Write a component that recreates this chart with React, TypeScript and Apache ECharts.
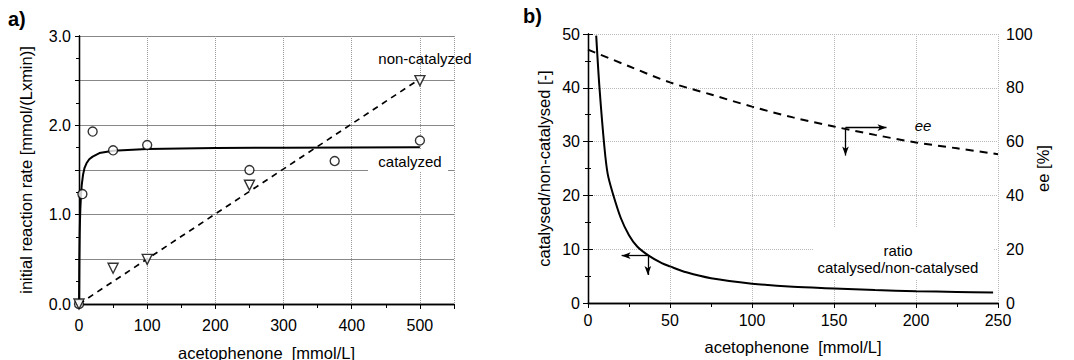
import { useEffect, useRef } from "react";
import * as echarts from "echarts";

// Panel a) data
const catX = [0, 5, 20, 50, 100, 250, 375, 500];
const catY = [0, 1.23, 1.93, 1.72, 1.78, 1.5, 1.6, 1.83];
const nonX = [0, 50, 100, 250, 500];
const nonY = [0, 0.4, 0.5, 1.33, 2.5];
const fitX = [0, 0.5, 1, 1.5, 2, 3, 4, 6, 8, 11, 15, 20, 30, 50, 100, 200, 300, 400, 500];
const fitY = [0, 0.5, 0.78, 0.95, 1.07, 1.23, 1.33, 1.45, 1.52, 1.575, 1.62, 1.65, 1.69, 1.715, 1.735, 1.745, 1.75, 1.752, 1.755];
const linX = [0, 500];
const linY = [0, 2.52];

// Panel b) data
const ratioX = [5, 7, 10, 12, 15, 20, 25, 30, 37, 45, 50, 60, 75, 100, 125, 150, 175, 200, 225, 247];
const ratioY = [49.7, 40, 29, 24, 20.5, 15.8, 12.6, 10.5, 8.8, 7.4, 6.8, 5.7, 4.6, 3.6, 3.0, 2.7, 2.4, 2.2, 2.05, 1.95];
const eeX = [0, 25, 50, 75, 100, 125, 150, 175, 200, 225, 250];
const eeY = [94.2, 88, 82, 77.5, 73, 69, 65.6, 62.5, 59.7, 57.5, 55.3];

const FONT = "Liberation Sans";

const zip = (xs: number[], ys: number[]) => xs.map((x, i) => [x, ys[i]]);

export default function App() {
  const ref = useRef<HTMLDivElement>(null);
  useEffect(() => {
    const chart = echarts.init(ref.current!, null, { renderer: "svg" });
    const axisLine = { show: true, lineStyle: { color: "#000", width: 1.3 } };
    const label = { color: "#000", fontSize: 16, fontFamily: FONT };
    const nameStyle = { color: "#000", fontSize: 16.5, fontFamily: FONT };
    const frameX = (grid: number, min: number, max: number, interval: number) => ({
      type: "value", gridIndex: grid, position: "top", min, max, interval,
      axisLine, axisLabel: { show: false }, splitLine: { show: false },
      axisTick: { show: true, inside: true, length: 4, lineStyle: { color: "#000" } },
      minorTick: { show: true, splitNumber: 2, length: 3, lineStyle: { color: "#000" } },
    });
    const option: any = {
      animation: false,
      grid: [
        { left: 79, top: 36, width: 375, height: 268, outerBoundsMode: "none", containLabel: false },
        { left: 588, top: 34, width: 410, height: 269, outerBoundsMode: "none", containLabel: false },
      ],
      xAxis: [
        {
          type: "value", gridIndex: 0, min: 0, max: 550, interval: 100, position: "bottom",
          axisLine,
          axisTick: { show: true, length: 5, lineStyle: { color: "#000" } },
          minorTick: { show: true, splitNumber: 2, length: 4, lineStyle: { color: "#000" } },
          axisLabel: { ...label, margin: 13, showMaxLabel: false },
          splitLine: { show: true, lineStyle: { color: "#999", type: "dotted", width: 1 } },
          name: "acetophenone  [mmol/L]", nameLocation: "middle", nameGap: 40, nameMoveOverlap: false,
          nameTextStyle: nameStyle,
        },
        frameX(0, 0, 550, 100),
        {
          type: "value", gridIndex: 1, min: 0, max: 250, interval: 50, position: "bottom",
          axisLine,
          axisTick: { show: true, length: 5, lineStyle: { color: "#000" } },
          minorTick: { show: true, splitNumber: 2, length: 4, lineStyle: { color: "#000" } },
          axisLabel: { ...label, margin: 9 },
          splitLine: { show: true, lineStyle: { color: "#bbb", type: "dotted", width: 1 } },
          name: "acetophenone  [mmol/L]", nameLocation: "middle", nameGap: 35, nameMoveOverlap: false,
          nameTextStyle: nameStyle,
        },
        frameX(1, 0, 250, 50),
      ],
      yAxis: [
        {
          type: "value", gridIndex: 0, min: 0, max: 3, interval: 0.5, position: "left",
          axisLine,
          axisTick: { show: true, length: 4, lineStyle: { color: "#000" } },
          minorTick: { show: true, splitNumber: 2, length: 3, lineStyle: { color: "#000" } },
          axisLabel: { ...label, margin: 8, formatter: (v: number) => (Math.abs(v % 1) < 1e-9 ? v.toFixed(1) : "") },
          splitLine: { show: true, lineStyle: { color: "#888", width: 1 } },
          name: "initial reaction rate [mmol/(Lxmin)]", nameLocation: "middle", nameGap: 45, nameMoveOverlap: false,
          nameRotate: 90, nameTextStyle: nameStyle,
        },
        {
          type: "value", gridIndex: 0, min: 0, max: 3, interval: 0.5, position: "right",
          axisLine, axisLabel: { show: false }, splitLine: { show: false },
          axisTick: { show: true, inside: true, length: 4, lineStyle: { color: "#000" } },
          minorTick: { show: true, splitNumber: 2, length: 3, lineStyle: { color: "#000" } },
        },
        {
          type: "value", gridIndex: 1, min: 0, max: 50, interval: 10, position: "left",
          axisLine,
          axisTick: { show: true, length: 5, lineStyle: { color: "#000" } },
          minorTick: { show: true, splitNumber: 2, length: 3, lineStyle: { color: "#000" } },
          axisLabel: { ...label, margin: 8 },
          splitLine: { show: true, lineStyle: { color: "#bbb", type: "dotted", width: 1 } },
          name: "catalysed/non-catalysed [-]", nameLocation: "middle", nameGap: 36, nameMoveOverlap: false,
          nameRotate: 90, nameTextStyle: nameStyle,
        },
        {
          type: "value", gridIndex: 1, min: 0, max: 100, interval: 20, position: "right",
          axisLine,
          axisTick: { show: true, length: 5, lineStyle: { color: "#000" } },
          minorTick: { show: true, splitNumber: 2, length: 3, lineStyle: { color: "#000" } },
          axisLabel: { ...label, margin: 8 },
          splitLine: { show: false },
          name: "ee [%]", nameLocation: "middle", nameGap: 36, nameMoveOverlap: false,
          nameRotate: 90, nameTextStyle: nameStyle,
        },
      ],
      graphic: [
        { type: "rect", z: 1, shape: { x: 368, y: 150, width: 80, height: 22 }, style: { fill: "#fff" } },
        { type: "rect", z: 1, shape: { x: 813, y: 228, width: 180, height: 52 }, style: { fill: "#fff" } },
        { type: "text", z: 10, left: 8, top: 9, style: { text: "a)", font: `bold 20px ${FONT}`, fill: "#000" } },
        { type: "text", z: 10, left: 523, top: 6, style: { text: "b)", font: `bold 20px ${FONT}`, fill: "#000" } },
        { type: "text", z: 10, x: 425, y: 58, style: { text: "non-catalyzed", font: `15px ${FONT}`, fill: "#000", align: "center", verticalAlign: "middle" } },
        { type: "text", z: 10, x: 410, y: 161, style: { text: "catalyzed", font: `15px ${FONT}`, fill: "#000", align: "center", verticalAlign: "middle" } },
        { type: "text", z: 10, x: 898, y: 250, style: { text: "ratio", font: `15px ${FONT}`, fill: "#000", align: "center", verticalAlign: "middle" } },
        { type: "text", z: 10, x: 898, y: 267, style: { text: "catalysed/non-catalysed", font: `15px ${FONT}`, fill: "#000", align: "center", verticalAlign: "middle" } },
        { type: "text", z: 10, x: 923, y: 125, style: { text: "ee", font: `italic 15px ${FONT}`, fill: "#000", align: "center", verticalAlign: "middle" } },
      ],
      series: [
        {
          type: "line", xAxisIndex: 0, yAxisIndex: 0, data: zip(fitX, fitY), showSymbol: false,
          lineStyle: { color: "#000", width: 2 }, z: 3,
        },
        {
          type: "line", xAxisIndex: 0, yAxisIndex: 0, data: zip(linX, linY), showSymbol: false,
          lineStyle: { color: "#000", width: 1.7, type: [6, 5] }, z: 3,
        },
        {
          type: "scatter", xAxisIndex: 0, yAxisIndex: 0, data: zip(catX, catY), symbol: "circle", symbolSize: 9,
          itemStyle: { color: "#fff", borderColor: "#000", borderWidth: 1.4 }, z: 4,
        },
        {
          type: "scatter", xAxisIndex: 0, yAxisIndex: 0, data: zip(nonX, nonY), symbol: "triangle", symbolRotate: 180,
          symbolSize: 10, itemStyle: { color: "#fff", borderColor: "#000", borderWidth: 1.4 }, z: 4,
        },
        {
          type: "line", xAxisIndex: 2, yAxisIndex: 2, data: zip(ratioX, ratioY), showSymbol: false, smooth: 0.3,
          lineStyle: { color: "#000", width: 2 }, z: 3,
          markLine: {
            silent: true, symbol: ["none", "arrow"], symbolSize: [5, 9],
            lineStyle: { color: "#000", width: 1.3, type: "solid" }, label: { show: false },
            emphasis: { disabled: true },
            data: [
              [{ coord: [36.5, 8.8] }, { coord: [20.5, 8.8] }],
              [{ coord: [36.5, 8.8] }, { coord: [36.5, 5.2] }],
              [{ coord: [157, 32.6] }, { coord: [182, 32.6] }],
              [{ coord: [157, 32.6] }, { coord: [157, 27.4] }],
            ],
          },
        },
        {
          type: "line", xAxisIndex: 2, yAxisIndex: 3, data: zip(eeX, eeY), showSymbol: false, smooth: 0.3,
          lineStyle: { color: "#000", width: 2, type: [8, 6] }, z: 3,
        },
      ],
    };
    chart.setOption(option);
    return () => chart.dispose();
  }, []);
  return (
    <div
      ref={ref}
      style={{ position: "absolute", left: 0, top: 0, width: 1074, height: 360, background: "#fff" }}
    />
  );
}
